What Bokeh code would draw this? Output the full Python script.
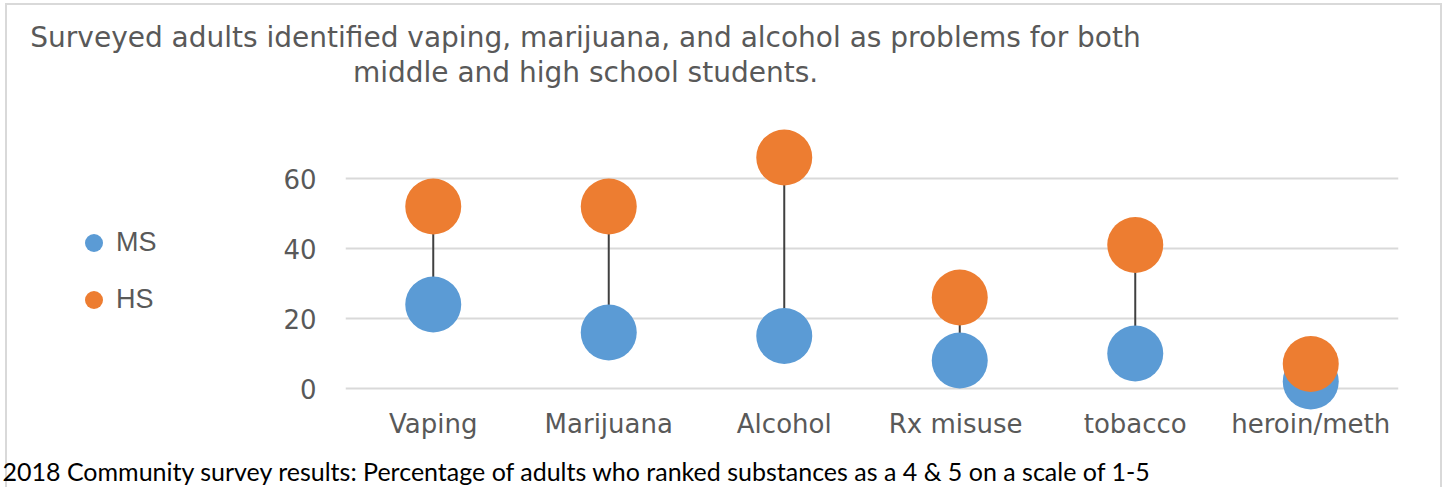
import numpy as np
from bokeh.plotting import figure
from bokeh.layouts import column, row
from bokeh.models import (FactorRange, Range1d, FixedTicker, Legend, LegendItem, Label,
                          ColumnDataSource)
from bokeh.embed import file_html
from bokeh.resources import INLINE

categories = ["Vaping", "Marijuana", "Alcohol", "Rx  misuse", "tobacco", "heroin/meth"]
ms_values = [24, 16, 15, 8, 10, 2]
hs_values = [52, 52, 66, 26, 41, 7]
y_ticks = [0, 20, 40, 60]
series_names = ["MS", "HS"]
series_colors = ["#5b9bd5", "#ed7d31"]
title_lines = ["Surveyed adults identified vaping, marijuana, and alcohol as problems for both",
               "middle and high school students."]
caption = "2018 Community survey results: Percentage of adults who ranked substances as a 4 & 5 on a scale of 1-5"

W, H = 1447, 487
top_h, bottom_h = 90, 42
mid_h = H - top_h - bottom_h          # 355
legend_w = 280
frame_left, frame_right = 342, 1398
frame_bottom_page = 410
px_per_unit = 3.5
zero_px = 388
y_start = -(frame_bottom_page - zero_px) / px_per_unit
y_end = (zero_px - top_h) / px_per_unit


def blank(width, height):
    f = figure(width=width, height=height, x_range=Range1d(0, width), y_range=Range1d(height, 0),
               x_axis_type=None, y_axis_type=None, output_backend="svg", toolbar_location=None,
               min_border=0)
    f.outline_line_color = None
    f.background_fill_color = None
    f.border_fill_color = None
    return f


# --- title strip ---
top = blank(W, top_h)
for txt, cx, cy in zip(title_lines, [585, 585], [37, 72]):
    top.add_layout(Label(x=cx, y=cy, text=txt, text_align="center", text_baseline="middle",
                         text_font="DejaVu Sans", text_font_size="28px", text_color="#595959"))

# --- legend panel (legend swatches only; no data points are drawn here) ---
leg = blank(legend_w, mid_h)
dummies = [leg.scatter(x=[np.nan], y=[np.nan], size=10, fill_color=c, line_color=None)
           for c in series_colors]
legend = Legend(items=[LegendItem(label=n, renderers=[r]) for n, r in zip(series_names, dummies)],
                location=(71, 88), glyph_width=45, glyph_height=45, spacing=12,
                label_standoff=0, padding=0, margin=0, border_line_color=None,
                background_fill_alpha=0, label_text_font="Liberation Sans",
                label_text_font_size="27px", label_text_color="#595959")
leg.add_layout(legend)

# --- main chart ---
p = figure(width=W - legend_w, height=mid_h, x_range=FactorRange(*categories),
           y_range=Range1d(y_start, y_end), output_backend="svg", toolbar_location=None,
           min_border_left=frame_left - legend_w, min_border_right=W - frame_right,
           min_border_top=0, min_border_bottom=mid_h - (frame_bottom_page - top_h))
p.outline_line_color = None
p.background_fill_color = None
p.border_fill_color = None

src = ColumnDataSource(dict(cat=categories, ms=ms_values, hs=hs_values))
p.segment(x0="cat", y0="ms", x1="cat", y1="hs", source=src, line_color="#404040", line_width=2)
p.scatter(x="cat", y="ms", source=src, size=56, fill_color=series_colors[0], line_color=None)
p.scatter(x="cat", y="hs", source=src, size=56, fill_color=series_colors[1], line_color=None)

p.xgrid.grid_line_color = None
p.ygrid.grid_line_color = "#d9d9d9"
p.ygrid.grid_line_width = 2
p.yaxis.ticker = FixedTicker(ticks=y_ticks)
for ax in (p.xaxis[0], p.yaxis[0]):
    ax.axis_line_color = None
    ax.major_tick_line_color = None
    ax.minor_tick_line_color = None
    ax.major_tick_out = 0
    ax.major_tick_in = 0
    ax.major_label_text_font = "DejaVu Sans"
    ax.major_label_text_font_size = "26px"
    ax.major_label_text_color = "#595959"
p.yaxis.major_label_standoff = 29
p.xaxis.major_label_standoff = -2
p.xaxis.major_label_overrides = {"Rx  misuse": "Rx\u00a0\u00a0misuse"}

# --- caption strip ---
bot = blank(W, bottom_h)
bot.add_layout(Label(x=2, y=470 - (H - bottom_h), text=caption, text_align="left",
                     text_baseline="middle", text_font="Lato", text_font_size="25px",
                     text_color="black"))

layout = column(top, row(leg, p, spacing=0), bot, spacing=0)
g = "linear-gradient(#d9d9d9,#d9d9d9)"
layout.styles = {"background": f"{g} 5px 3px / 2px 100% no-repeat, {g} 1440px 3px / 2px 100% no-repeat, "
                               f"{g} 5px 3px / 1437px 2px no-repeat, white"}

open("out.html", "w").write(file_html(layout, INLINE))
